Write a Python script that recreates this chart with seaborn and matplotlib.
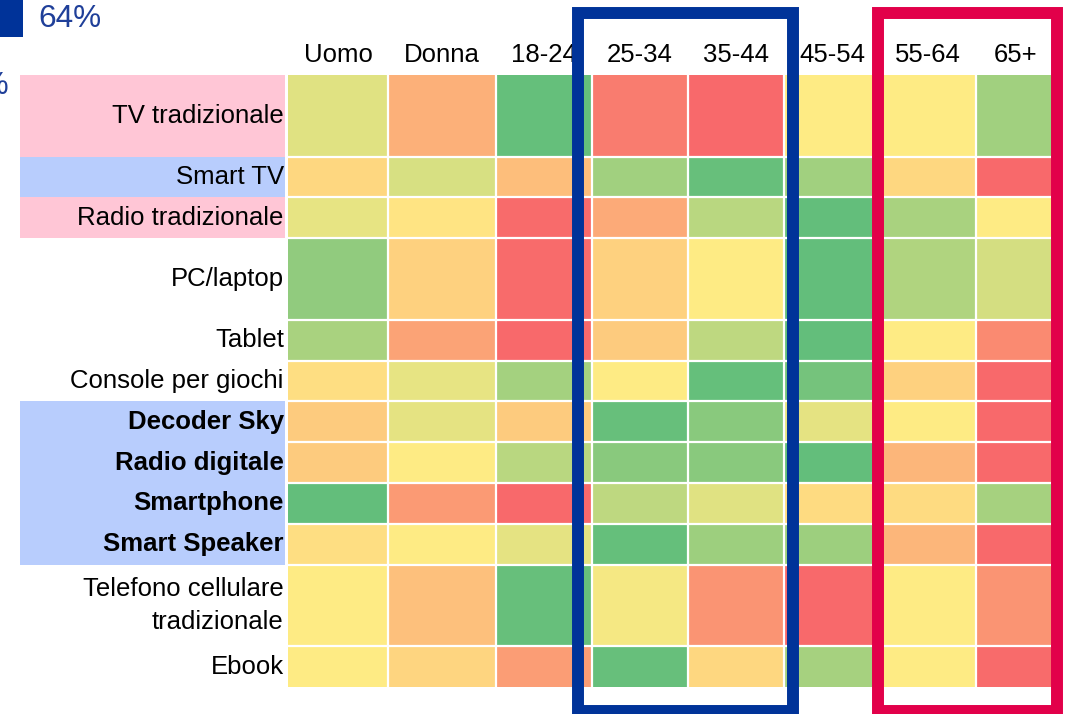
import numpy as np
import pandas as pd
import matplotlib
matplotlib.use('Agg')
import matplotlib.pyplot as plt
import matplotlib.transforms as mtransforms
from matplotlib.colors import LinearSegmentedColormap
from matplotlib.patches import Rectangle
import seaborn as sb

plt.rcParams['font.family'] = ['Liberation Sans', 'DejaVu Sans']

# Rows (devices) and their relative heights (2 = tall row)
devices = ["TV tradizionale", "Smart TV", "Radio tradizionale", "PC/laptop", "Tablet",
           "Console per giochi", "Decoder Sky", "Radio digitale", "Smartphone",
           "Smart Speaker", "Telefono cellulare\ntradizionale", "Ebook"]
row_heights = [2, 1, 1, 2, 1, 1, 1, 1, 1, 1, 2, 1]
bold_rows = ["Decoder Sky", "Radio digitale", "Smartphone", "Smart Speaker"]
pink_rows = ["TV tradizionale", "Radio tradizionale"]
blue_rows = ["Smart TV", "Decoder Sky", "Radio digitale", "Smartphone", "Smart Speaker"]

columns = ["Uomo", "Donna", "18-24", "25-34", "35-44", "45-54", "55-64", "65+"]
# relative column widths (the source slide has slightly uneven columns)
col_widths = [25, 27, 24, 24, 24, 24, 24, 20]

# Relative index per column (-1 = red, 0 = yellow, +1 = green)
uomo = [0.2, -0.15, 0.15, 0.7, 0.55, -0.1, -0.25, -0.25, 1.0, -0.1, 0.0, 0.0]
donna = [-0.45, 0.25, -0.05, -0.2, -0.55, 0.15, 0.17, 0.0, -0.62, 0.0, -0.33, -0.17]
age_18_24 = [0.98, -0.35, -0.98, -0.98, -1.0, 0.58, -0.25, 0.45, -1.0, 0.17, 0.97, -0.6]
age_25_34 = [-0.85, 0.6, -0.5, -0.2, -0.25, 0.0, 0.97, 0.75, 0.42, 0.98, 0.07, 0.97]
age_35_44 = [-1.0, 0.97, 0.45, 0.0, 0.42, 0.98, 0.75, 0.75, 0.2, 0.63, -0.67, -0.15]
age_45_54 = [0.0, 0.6, 1.0, 1.0, 1.0, 0.88, 0.17, 1.0, -0.12, 0.63, -1.0, 0.57]
age_55_64 = [0.0, -0.15, 0.55, 0.5, 0.0, -0.2, 0.0, -0.4, -0.12, -0.4, 0.0, 0.0]
age_65 = [0.6, -1.0, 0.0, 0.28, -0.75, -1.0, -1.0, -1.0, 0.57, -1.0, -0.67, -0.98]

data = pd.DataFrame({"Uomo": uomo, "Donna": donna, "18-24": age_18_24, "25-34": age_25_34,
                     "35-44": age_35_44, "45-54": age_45_54, "55-64": age_55_64, "65+": age_65},
                    index=devices)[columns]

# Repeat rows / columns so the heatmap keeps the uneven cell sizes
expanded = np.repeat(np.repeat(data.values, row_heights, axis=0), col_widths, axis=1)
expanded = pd.DataFrame(expanded)
row_bounds = np.concatenate([[0], np.cumsum(row_heights)])
row_centers = row_bounds[:-1] + np.array(row_heights) / 2
col_bounds = np.concatenate([[0], np.cumsum(col_widths)])
col_centers = col_bounds[:-1] + np.array(col_widths) / 2

# Excel-like red / yellow / green scale
cmap = LinearSegmentedColormap.from_list("excel_ryg", ["#F8696B", "#FFEB84", "#63BE7B"])

W, H = 1066, 714
fig = plt.figure(figsize=(W / 100, H / 100), dpi=100)
ax = fig.add_axes([288 / W, 1 - 687 / H, 768 / W, 612 / H])

sb.heatmap(expanded, ax=ax, cmap=cmap, vmin=-1, vmax=1, cbar=False, linewidths=0,
           xticklabels=False, yticklabels=False)

# White cell borders
for b in row_bounds[1:-1]:
    ax.axhline(b, color="white", lw=1.6)
for c in col_bounds[1:-1]:
    ax.axvline(c, color="white", lw=1.6)

ax.xaxis.tick_top()
ax.set_xticks(col_centers)
ax.set_xticklabels(columns, rotation=0)
ax.set_yticks(row_centers)
ax.set_yticklabels(devices, rotation=0, ha="right", va="center")
ax.tick_params(length=0, labelsize=18.5)
ax.tick_params(axis="x", pad=6)
ax.tick_params(axis="y", pad=3)
for lab in ax.get_yticklabels():
    lab.set_linespacing(1.45)
    if lab.get_text() in bold_rows:
        lab.set_fontweight("bold")

# Coloured backgrounds behind the row labels
trans = mtransforms.blended_transform_factory(ax.transAxes, ax.transData)
x0 = (20 - 288) / 768
bw = (285 - 20) / 768
for i, name in enumerate(devices):
    if name in pink_rows:
        color = "#FFC6D6"
    elif name in blue_rows:
        color = "#B8CDFD"
    else:
        continue
    ax.add_patch(Rectangle((x0, row_bounds[i]), bw, row_heights[i], transform=trans,
                           facecolor=color, edgecolor="none", clip_on=False, zorder=0.5))

# Highlight boxes around age groups
fig.add_artist(Rectangle((578 / W, 1 - 710.5 / H), (792.5 - 578) / W, (710.5 - 13) / H,
                         transform=fig.transFigure, fill=False, edgecolor="#003399",
                         lw=8.6, joinstyle="miter", zorder=10))
fig.add_artist(Rectangle((878 / W, 1 - 710.5 / H), (1056.5 - 878) / W, (710.5 - 13) / H,
                         transform=fig.transFigure, fill=False, edgecolor="#E2004A",
                         lw=8.6, joinstyle="miter", zorder=10))

# Fragments of the surrounding slide
fig.add_artist(Rectangle((0, 1 - 37 / H), 23 / W, 37 / H, transform=fig.transFigure,
                         facecolor="#003399", edgecolor="none"))
fig.text(38 / W, 1 - 19 / H, "64%", va="center", ha="left", fontsize=22.7, color="#1F3F99")
fig.text(9 / W, 1 - 86 / H, "5%", va="center", ha="right", fontsize=22.7, color="#1F3F99")

fig.savefig("out.png", dpi=100)
